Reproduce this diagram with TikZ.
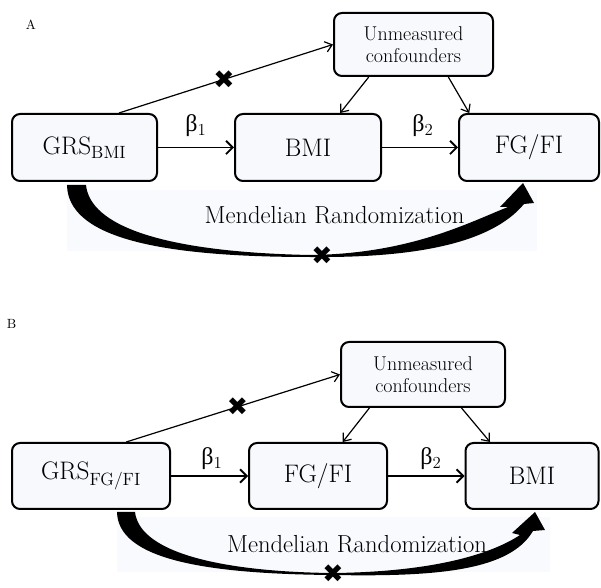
\documentclass[tikz,border=0pt]{standalone}
\usepackage{fontspec}
\newfontfamily\grkfont{Liberation Serif}
\newfontfamily\symfont{DejaVu Sans}
\usetikzlibrary{arrows.meta}

\definecolor{boxfill}{RGB}{247,249,253}
\definecolor{mrfill}{RGB}{248,250,253}

\tikzset{every picture/.style={line width=0.75pt}}
\tikzset{
  varbox/.style={draw, rounded corners=6pt, line width=1.5pt, fill=boxfill, align=center, inner sep=0pt, font=\fontsize{19}{22}\selectfont},
  confbox/.style={varbox, font=\fontsize{15}{16.5}\selectfont},
  effarrow/.style={line width=1.4pt, -{Straight Barb[length=5pt,width=10pt]}},
  confarrow/.style={line width=0.9pt, -{Straight Barb[length=5pt,width=8pt]}},
  xmark/.style={inner sep=0pt, font=\symfont\fontsize{19}{19}\selectfont},
  mrtext/.style={inner sep=0pt, font=\fontsize{18.5}{20}\selectfont},
  betalabel/.style={inner sep=0pt, font=\fontsize{18}{18}\selectfont},
  panellabel/.style={inner sep=0pt, font=\fontsize{10}{10}\selectfont}
}
\newcommand{\betaof}[1]{{\grkfont β}\textsubscript{#1}}

\begin{document}
\begin{tikzpicture}[x=0.75pt,y=0.75pt,yscale=-1,xscale=1]
\useasboundingbox (0,0) rectangle (601,588);

%%%%%%%%%%%%%%%% Panel A
% Text Node
\node[panellabel] (labA) at (31,25) {A};

%Shape: Rectangle (background)
\fill[mrfill] (67,190) rectangle (537,251);

%Shape: Rounded Rect
\node[varbox, minimum width=108.75pt, minimum height=50.25pt] (grsA) at (84.5,147.5) {GRS\textsubscript{BMI}};
\node[varbox, minimum width=109.5pt, minimum height=50.25pt] (bmiA) at (308,147.5) {BMI};
\node[varbox, minimum width=105pt, minimum height=50.25pt] (fgA) at (529,147.5) {FG/FI};
\node[confbox, minimum width=119.25pt, minimum height=47.25pt] (confA) at (413.5,44.5) {Unmeasured\\confounders};

%Straight Lines
\draw[effarrow] (grsA) -- (bmiA);
\draw[effarrow] (bmiA) -- (fgA);
\draw[confarrow] (grsA.45) -- node[xmark, pos=0.49] (xA1) {✖} (confA.west);
\draw[confarrow] (confA.216) -- (bmiA.47);
\draw[confarrow] (confA.317) -- (fgA.150);

% Text Node
\node[betalabel] (b1A) at (196,126) {\betaof{1}};
\node[betalabel] (b2A) at (423,126) {\betaof{2}};

%Curve Lines: Mendelian randomization
\fill (67,185) .. controls (68,235) and (150,257) .. (310,257)
  .. controls (410,258) and (490,245) .. (524,204)
  -- (534,203) -- (523,183) -- (500,207) -- (508,207)
  .. controls (470,222) and (410,254) .. (310,255)
  .. controls (160,252) and (90,225) .. (86,185) -- cycle;
\node[xmark] (xA2) at (322,256) {✖};

% Text Node
\node[mrtext] (mrA) at (334.5,215) {Mendelian Randomization};

%%%%%%%%%%%%%%%% Panel B
% Text Node
\node[panellabel] (labB) at (11.5,324) {B};

%Shape: Rectangle (background)
\fill[mrfill] (117,517) rectangle (550,572);

%Shape: Rounded Rect
\node[varbox, minimum width=118.5pt, minimum height=49.5pt] (grsB) at (91,476) {GRS\textsubscript{FG/FI}};
\node[varbox, minimum width=103.5pt, minimum height=49.5pt] (fgB) at (318,476) {FG/FI};
\node[varbox, minimum width=99.75pt, minimum height=49.5pt] (bmiB) at (532,476) {BMI};
\node[confbox, minimum width=123pt, minimum height=48.75pt] (confB) at (423,374.5) {Unmeasured\\confounders};

%Straight Lines
\draw[effarrow] (grsB) -- (fgB);
\draw[effarrow] (fgB) -- (bmiB);
\draw[confarrow] (grsB.44) -- node[xmark, pos=0.52] (xB1) {✖} (confB.west);
\draw[confarrow] (confB.212) -- (fgB.54);
\draw[confarrow] (confB.319) -- (bmiB.141);

% Text Node
\node[betalabel] (b1B) at (212,459) {\betaof{1}};
\node[betalabel] (b2B) at (431,459) {\betaof{2}};

%Curve Lines: Mendelian randomization
\fill (117,512) .. controls (118,558) and (200,574) .. (333,575)
  .. controls (440,577) and (510,570) .. (533,531)
  -- (545,530) -- (535,512) -- (512,533) -- (520,535)
  .. controls (490,555) and (430,572) .. (333,573)
  .. controls (230,572) and (140,555) .. (135,512) -- cycle;
\node[xmark] (xB2) at (333,574) {✖};

% Text Node
\node[mrtext] (mrB) at (357,544) {Mendelian Randomization};

\end{tikzpicture}
\end{document}
